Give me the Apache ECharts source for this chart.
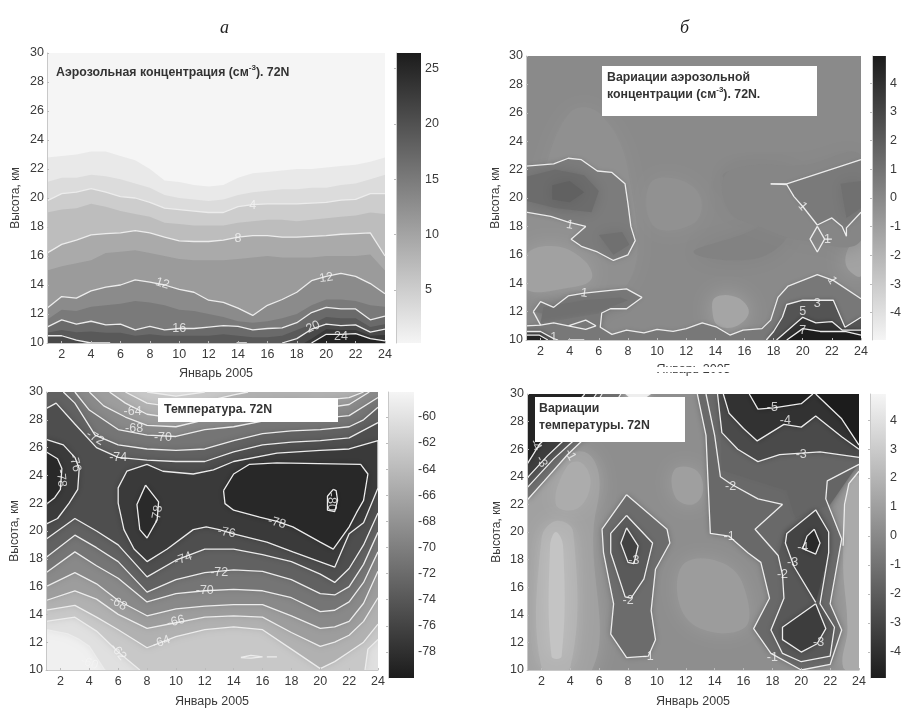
<!DOCTYPE html>
<html><head><meta charset="utf-8">
<style>html,body{margin:0;padding:0;background:#fff;overflow:hidden}#c{width:904px;height:709px;filter:blur(0.45px)}</style>
<script src="https://cdn.jsdelivr.net/npm/echarts@6/dist/echarts.min.js"></script>
</head><body><div id="c"></div><script>
const dayTicks=[2,4,6,8,10,12,14,16,18,20,22,24];
const kmTicks=[10,12,14,16,18,20,22,24,26,28,30];
const cbTicksA=[5,10,15,20,25];
const cbTicksB=[-4,-3,-2,-1,0,1,2,3,4];
const cbTicksC=[-78,-76,-74,-72,-70,-68,-66,-64,-62,-60];
const cbTicksD=[-4,-3,-2,-1,0,1,2,3,4];
const xName='Январь 2005', yName='Высота, км';
// panel a : height of each concentration level per day
const days=[1,2,3,4,5,6,7,8,9,10,11,12,13,14,15,16,17,18,19,20,21,22,23,24];
const a1=[22.8,22.9,23,23.2,23.2,22.9,22.6,22,21.2,21.1,20.9,20.8,20.9,21.4,21.7,21.8,21.9,22,22,22.1,22.2,22.3,22.5,22.8];
const a2=[21.1,21.4,21.4,21.6,21.5,21.3,21,20.7,20.2,20,19.9,19.8,19.9,20.2,20.4,20.5,20.6,20.6,20.7,20.7,20.9,21,21.3,21.6];
const a4=[19.8,20.3,20.4,20.65,20.4,20.1,20,19.7,19.3,19.2,19.1,19,19,19.4,19.55,19.6,19.6,19.6,19.65,19.7,19.85,19.9,20.3,20.3];
const a6=[19,19.2,19.3,19.6,19.4,19.1,18.9,18.7,18.3,18.2,18.1,18.1,18.1,18.3,18.4,18.5,18.5,18.4,18.5,18.6,18.7,18.8,19,18.9];
const a8=[16.2,16.8,17.1,17.45,17.55,17.6,17.75,17.6,17.3,17.05,17,17,17.1,17.3,17.4,17.4,17.3,17.3,17.35,17.4,17.5,17.55,17.6,16];
const a10=[15,15.3,15.5,15.7,16.2,16.3,16.4,16.2,16,15.8,15.7,15.7,15.7,15.8,15.9,16,15.9,15.9,15.9,16,16,16,16.1,15];
const a12=[12.4,13.2,13.1,13.6,13.85,14,14.35,14.2,14,13.7,13.5,12.95,12.8,12.4,11.9,12.6,13,13.5,14.3,14.6,14.8,14.6,14.1,13.4];
const a14=[11.6,12.3,12.2,12.5,12.6,12.7,12.9,12.8,12.6,12.3,12.2,12,11.8,11.5,11.4,11.5,11.7,12,12.6,13,13,12.9,12.6,12.5];
const a16=[11.1,11.6,11.3,11.5,11.25,11.3,10.9,11.15,10.9,11,11,11.1,11.2,11.15,10.9,11,11.05,11.4,12.1,12.45,12.35,12.35,11.6,11.85];
const a18=[10.7,10.9,10.75,10.8,10.7,10.7,10.5,10.6,10.5,10.5,10.5,10.5,10.6,10.5,10.4,10.4,10.5,10.9,11.3,11.8,11.7,11.7,11.1,11.3];
const a20L=[[1,10.5],[2,10.5],[3,10.2],[4,10],[5.3,10]];
const a20R=[[17,10],[18,10.3],[19,10.95],[20,11.3],[21,11.2],[22,11.25],[23,10.75],[24,10.95]];
const a22=[[18.5,10],[19,10.3],[20,10.95],[21,10.9],[22,10.9],[23,10.5],[24,10.55]];
const a24=[[19,10],[20,10.6],[21,10.6],[22,10.65],[23,10.3],[24,10.15]];
const aIsland=[[13.9,10],[14.6,10]];
// panel b : contours
const b1Left=[[1,22.25],[2.9,22.4],[3.9,22.8],[4.8,22.7],[5.9,21.9],[6.9,21.8],[7.8,21],[8,19.6],[8.2,18],[8.5,17],[8,16],[7,15.6],[5.9,16.2],[4.8,16.6],[4.1,17.1],[5.1,18],[3.9,18.3],[2.7,18.7],[1,19]];
const b1Low=[[1.5,12],[2,12.7],[2.9,12.3],[3.9,13.1],[5,13.3],[6.8,13.5],[7.9,13.6],[8.96,13],[7.9,12.2],[6.8,12.2],[6.2,11.9],[6.1,10.9],[6.9,10.4],[7.9,10.7],[9.1,10.5],[10,10.75],[11.1,10.6],[12,10.8],[13.1,11.2],[14.1,10.9],[15,10.35],[15.9,10.7],[17.2,10.8],[17.8,11.4],[18.3,13],[19,13.8],[21,14.6],[22.1,14.2],[24,12.9]];
const b1Bot=[[1,11],[2,11.05],[2.9,11.2],[3.9,11],[5.1,11.4],[5.8,11],[5.1,10.75],[3.9,11]];
const b1Link=[[1.5,12],[2,11.05]];
const b3=[[17.5,10],[18,10.6],[18.6,11.6],[18.9,12.5],[20,12.8],[22.1,12.8],[22.9,10.9],[24,11.6]];
const b5=[[18.2,10],[20,11.6],[20.9,11.2],[22,11.3],[22.7,10.7],[24,10.7]];
const b7=[[18.9,10],[20,10.8],[21.2,10.6],[22.9,10.6],[24,10.35]];
const bCorner1=[[1,10.6],[2,10.6],[2.9,10.1],[3.2,10]];
const bCorner2=[[1,10.35],[1.9,10.35],[2.5,10]];
const bEdge=[[3.9,10],[5,10]];
const bRight=[[17.8,21],[18.9,21],[24,22.7]];
const bRight2=[[17.8,21],[18.9,20.95],[19.4,20.1],[20,19.4],[21,18.1],[22,18.6],[22.7,18],[23,17.3],[23,17.9],[24,19]];
const bDiamond=[[21,18],[21.5,17.1],[22,17.1],[21.5,17.1],[21,16.2],[20.5,17.1],[21,18]];
const bSoft=[
 {v:-0.35,pts:[[2,21],[4,26],[6,26],[8,22],[8,14],[3,14],[1,17]]},
 {v:-1.1,pts:[[1,16],[3,16.6],[5,15.6],[5.5,14.3],[4,13.7],[1,13.6]]},
 {v:-1.3,pts:[[14,13],[15.5,13],[16.3,12],[15.5,11],[14.2,11],[13.8,12]]},
 {v:-1.2,pts:[[23,15.2],[24,14.5],[24,17],[23.2,16.6]]},
 {v:-0.4,pts:[[9.5,21],[11.5,21.3],[13,20],[12.5,18.2],[9.8,18]]},
 {v:0.3,pts:[[14.5,21.5],[18,22],[20,21],[17,18],[12.5,16.2],[17,15.8],[19,18]]},
 {v:0.1,pts:[[14.6,21.5],[16.5,22.3],[20,22.3],[24,23],[24,17],[20,17],[17,18],[15,19]]}
];
const bFill=[
 {v:0.55,pts:b1Left},
 {v:1.3,pts:[[1,21.5],[3,22],[5,21.6],[6,20.5],[5.5,19],[3,19.3],[1,19.8]]},
 {v:1.8,pts:[[2.8,20.9],[4,21.2],[5,20.4],[4,19.7],[2.8,19.9]]},
 {v:1.1,pts:[[6,17.4],[7.6,17.6],[8.1,16.7],[7,16]]},
 {v:0.75,pts:b1Low.slice(0,11).concat([[6.2,11]])},
 {v:1.1,pts:[[2,11.2],[2.2,12.3],[5,12.8],[7.5,13],[8,12.8],[6,12],[5.8,11.2]]},
 {v:0.75,pts:[[1,11]].concat(b1Low.slice(10),[[24,10],[1,10]])},
 {v:2.4,pts:b3.concat([[24,10]])},
 {v:4,pts:b5.concat([[24,10]])},
 {v:4.95,pts:b7.concat([[24,10]])},
 {v:2.5,pts:bCorner1.concat([[1,10]])},
 {v:4.6,pts:bCorner2.concat([[1,10]])},
 {v:0.65,pts:[[18.9,21],[24,22.7],[24,19],[23,17.9],[23,17.3],[22.7,18],[22,18.6],[21,18.1],[20,19.4],[19.4,20.1]]},
 {v:1.1,pts:[[22.6,21],[24,21.2],[24,19.3],[23,18.6]]}
];
// panel c : bottom-side and top-side isotherms
const dayKnots=[1,3,4.5,6,8,10,12,14,16,18,20,21,22,23,24];
const c74B=[19.4,20.9,20,19,16.7,17.9,18.7,18.7,18.3,17.8,16.9,16.3,17.3,19,21.3];
const c72B=[18.1,19.7,18.8,17.8,15.6,16.5,17,17.2,17.1,16.5,15.5,15.4,16,17.6,19.9];
const c70B=[17,18.5,17.5,16.6,14.9,15.5,15.7,15.8,15.7,15.2,14.2,14.3,14.9,16.3,18.5];
const c68B=[16,17,16.2,15,13.9,14.4,14.6,14.7,14.7,13.9,13,13.1,13.5,14.8,17.1];
const c66B=[15,15.7,15.1,14,13,13.4,13.8,13.9,13.8,12.7,11.7,12,12.5,13.5,15.2];
const c64B=[14.3,14.65,13.8,12.9,11.6,12.4,12.9,13.1,12.9,11.5,10.1,10.6,11.3,12,13.3];
const c62L=[[1,13.5],[3,13.8],[4.5,12.8],[6,11.3],[7.5,10]];
const c62R=[[23.1,10],[23.3,11.5],[24,12.2]];
const c60L=[[1,12.9],[2.5,12.6],[3.3,12.2],[4,11.7],[5,10.1],[5.1,10]];
const c74T=[[1,28.8],[1.7,29.2],[3,27.7],[4.5,26],[6,25.3],[8,25.1],[10,25],[12,25],[14,25.7],[16,26.2],[18,26.4],[20,26.5],[22,26.7],[24,27.8]];
const c72T=[[2.2,30],[3,29.2],[4.4,26.9],[6,26.2],[8,25.9],[10,25.8],[12,25.9],[14,26.5],[16,27],[18,27.2],[20,27.3],[22,27.5],[23,28],[24,28.9]];
const c70T=[[3,30],[4,28.7],[6,27.3],[8,26.9],[10,26.8],[12,27.3],[14,27.5],[16,27.9],[18,28],[20,28.1],[22,28.3],[24,29.6]];
const c68T=[[4,30],[5,29],[6.5,28.2],[8,27.6],[10,27.5],[12,28],[14,28.5],[16,28.7],[18,28.8],[20,28.8],[22,29.1],[23.4,30]];
const c66T=[[5.4,30],[6.5,29.2],[8,28.4],[10,28.1],[12,28.6],[14,29.2],[16,29.4],[18,29.5],[20,29.4],[22,29.6],[23,30]];
const c64T=[[6.5,30],[8,29.2],[10,28.9],[12,29.3],[14,29.8],[15,30]];
const c62T=[[8,30],[10,29.7],[12,30]];
const c76Loop=[[8,24.8],[9.1,24.3],[11.2,24.1],[12.6,24.4],[14,25],[17,25.6],[20,25.8],[22,25.9],[24,26.5],[24,23.1],[23,20.6],[22,19.8],[21,17.4],[18.1,18.5],[16.3,19.2],[14,19.8],[13,20.1],[12.1,20.3],[11.2,20.1],[9.4,18.7],[8,17.8],[7.1,18.7],[6.4,20.1],[6,22],[6,23.1],[6.6,24.3],[8,24.8]];
const c76Left=[[1,20.5],[1.8,20.9],[2.6,22],[3.2,23],[3.3,24.5],[3,25.3],[2.2,26.2],[1,26.6]];
const c78Left=[[1,21.9],[1.6,22.4],[2,23],[2.1,24.5],[1.8,25.2],[1,25.7]];
const c78Mid=[[7.9,23.3],[8.8,22.1],[8.7,20.8],[8,19.5],[7.5,20.1],[7.3,21.9],[7.9,23.3]];
const c78Right=[[13.3,22.9],[14,24.1],[15.1,24.8],[17,24.9],[22.8,24.8],[23.3,24.1],[23,22.2],[22.5,21.3],[22,20.3],[20.9,18.7],[20,19.2],[18.1,20.3],[17,20.7],[15.8,21],[14,21.5],[13.4,21.97],[13.3,22.9]];
const c80=[[20.9,23],[21.1,22.9],[21.2,22.2],[21,21.4],[20.5,21.5],[20.5,22.5],[20.9,23]];
const cIsle1=[[14.5,10.9],[15.2,11.05],[16,10.95],[15.2,10.85],[14.5,10.9]];
const cIsle2=[[16.3,10.95],[17,10.95]];
// panel d : contours
const d1Right=[[12.8,30],[13.4,27],[13.6,22.3],[13.7,19.9],[15,19.7],[16.3,18.5],[17.2,17.8],[17.8,15.2],[16.7,13],[17.9,11.2],[20,10],[22,10.4],[22.8,12.9],[22,14.8],[22.8,19.5],[21.7,22.4],[21.8,23.7],[24,24.9]];
const d2Right=[[13.4,30],[14,27],[14.4,24],[15.1,23.5],[17,22.4],[18.7,22],[16.8,20.2],[18.4,18.3],[18.7,16.9],[18.8,15.2],[17.9,12.9],[18.7,11.2],[20,10.6],[22,11],[22.3,13.1],[21.3,14.8],[21.9,18.5],[21.9,20],[21,21.6],[19,19.9],[18.9,19.2],[19.5,17.5],[21,14.9]];
const d3Low=[[21,14.8],[21.7,13],[21.1,11.9],[20,11.3],[18.7,12.2],[18.7,13.1],[21,14.8]];
const d3Top=[[14.2,30],[14.5,27.2],[15.6,26],[17,25.1],[18.5,25.6],[21.3,25.8],[24,25.4]];
const d4Top=[[14.6,30],[15,28.6],[16,27.5],[16.95,26.6],[18.8,27.8],[20,27.6],[21,28.4],[22.8,26.9],[24,26]];
const d5Top=[[16.4,30],[17,28.9],[18.1,29],[20,29.3],[20.8,30]];
const d5Right=[[21,30],[22.8,28.2],[24,26.3]];
const d4Inner=[[20.9,20.2],[21.3,19.2],[21,18.4],[20.1,18.8],[20.4,19.7],[20.9,20.2]];
const d0Right=[[24,24.4],[23.3,23.5],[23,22],[22.9,19]];
const d1Mid=[[7.9,22.7],[10.7,20.2],[10.9,19.2],[9.9,17.3],[9.6,14.3],[9.9,12.2],[9.4,11],[7.9,10.9],[6.8,12.6],[7,14.8],[6.3,18.5],[6.2,20.2],[7.9,22.7]];
const d2Mid=[[7.9,21.2],[9.7,19.2],[9.1,16.6],[8.2,15.2],[7.8,15.3],[6.8,18.5],[6.8,19.9],[7.9,21.2]];
const d3Mid=[[7.9,20.3],[8.7,19],[8.4,17.7],[8,17.8],[7.5,19.2],[7.9,20.3]];
const d1Corner=[[1,22.3],[2.2,23.7],[3.8,25.6],[4.8,26.6],[6,27.5],[7.5,30]];
const d2Corner=[[1,23.2],[2.85,25.3],[4.2,26.6],[5,28],[6.2,30]];
const d3Corner=[[1,23.9],[2.4,25.5],[3.5,26.6],[4.5,28],[5.8,30]];
const d4Corner=[[1,24.9],[1.9,26.4],[3,27.5],[5,30]];
const dSoft=[
 {v:1.1,pts:[[1,10],[5.5,10],[5.6,20],[6,24],[5,25.8],[3,25],[1,22]]},
 {v:1.9,pts:[[2,10.2],[4,10.2],[4.2,20],[3,20.8],[2,19.5]]},
 {v:2.7,pts:[[2.7,11],[3.4,11],[3.5,19],[3,20],[2.6,19]]},
 {v:1.6,pts:[[3,22],[4.5,21.7],[5.4,23.5],[4.8,25],[3.8,24.8]]},
 {v:1,pts:[[11.2,24.5],[12.7,24.5],[13.2,23],[12.5,22],[11.3,22.5]]},
 {v:0.9,pts:[[12,17.8],[15,17.5],[16.3,15],[16,13],[13,13],[11.5,15]]},
 {v:1.5,pts:[[23.3,23.5],[24,24],[24,10],[22.9,10.2],[23.2,13],[22.9,18]]}
];
const dFill=[
 {v:-1.4,pts:d1Right.concat([[24,30]])},
 {v:-1.6,pts:[[14.4,30],[14.5,24.5],[19,23],[19.6,21],[22,22],[24,25],[24,30]]},
 {v:-2.8,pts:d3Top.concat([[24,30]])},
 {v:-3.9,pts:d4Top.concat([[24,30]])},
 {v:-4.7,pts:d5Top},
 {v:-4.9,pts:d5Right.concat([[24,30]])},
 {v:-1.3,pts:d1Mid},{v:-2.1,pts:d2Mid},{v:-3.2,pts:d3Mid},
 {v:-2.2,pts:[[18.4,18.3],[18.7,16.9],[18.8,15.2],[17.9,12.9],[18.7,11.2],[20,10.6],[22,11],[22.3,13.1],[21.3,14.8],[21.9,18.5],[21.9,20],[21,21.6],[18.9,20]]},
 {v:-3.1,pts:[[21,21.6],[21.9,20],[21.9,18.5],[21,14.9],[19.5,17.5],[18.9,19.2],[19,19.9]]},
 {v:-3.4,pts:d3Low},{v:-4.3,pts:d4Inner},
 {v:-1.2,pts:d1Corner.concat([[1,30]])},{v:-2.3,pts:d2Corner.concat([[1,30]])},{v:-3.4,pts:d3Corner.concat([[1,30]])},{v:-4.6,pts:d4Corner.concat([[1,30]])},
 {v:4.6,pts:[[7.8,30],[8.6,29.3],[9.6,30]]}
];
// contour labels: day, km, text, rotation
const labelsA=[[15,19.45,'4',0],[14,17.2,'8',0],[8.85,14.1,'12',-18],[20,14.5,'12',8],[10,11,'16',0],[19.1,11.1,'20',25],[21,10.45,'24',0]];
const labelsB=[[4,18.1,'1',-10],[5,13.3,'1',-8],[20,19.4,'1',-50],[21.7,17.1,'1',0],[22,14.2,'1',-60],[21,12.6,'3',0],[20,12,'5',0],[20,10.7,'7',0],[2.9,10.2,'1',0]];
const labelsC=[[7,28.6,'-64',0],[7.1,27.4,'-68',0],[9.1,26.7,'-70',0],[4.4,26.7,'-72',-30],[6,25.3,'-74',0],[3,24.9,'-76',-75],[2.05,23.8,'-78',-85],[8.7,21.2,'-78',80],[20.8,22.1,'-80',-90],[17,20.6,'-78',-15],[13.5,19.9,'-76',-10],[10.5,18,'-74',20],[13,17,'-72',0],[12,15.7,'-70',0],[6,14.8,'-68',-30],[10,13.5,'-66',15],[9,12,'-64',20],[6,11.3,'-62',-50],[4,10.5,'-60',-20]];
const labelsD=[[18,29,'-5',0],[18.9,28.1,'-4',0],[20,25.6,'-3',0],[15.1,23.3,'-2',0],[15,19.7,'-1',0],[8.4,17.9,'-3',0],[8,15,'-2',0],[9.4,11,'-1',0],[18.7,16.9,'-2',0],[19.4,17.8,'-3',0],[20.1,18.9,'-4',0],[21.2,12,'-3',0],[18,10.9,'-1',0],[4,25.6,'-1',-60],[2,25.1,'-3',-60],[1.6,26.3,'-4',-60]];

const FONT='"Liberation Sans",Arial,sans-serif';
const join=(x,y)=>x.map((d,i)=>[d,y[i]]);
const knot=y=>join(dayKnots,y);
const dayLine=y=>join(days,y);
const panels=[
 {g:{left:47,top:53,width:338,height:290},cb:{left:396,top:53,width:25,height:290},range:[0.2,26.4],cbTicks:cbTicksA,darkTop:true,tickY:32},
 {g:{left:526,top:56,width:335,height:284},cb:{left:872,top:56,width:26,height:284},range:[-4.95,4.95],cbTicks:cbTicksB,darkTop:true},
 {g:{left:46,top:392,width:332,height:286},cb:{left:388,top:392,width:26,height:286},range:[-80,-58.1],cbTicks:cbTicksC,darkTop:false},
 {g:{left:527,top:394,width:332,height:283},cb:{left:870,top:394,width:25,height:284},range:[-4.9,4.9],cbTicks:cbTicksD,darkTop:false}
];
function grayOf(p,v){
 const t=(v-p.range[0])/(p.range[1]-p.range[0]);
 const g=p.darkTop?0.96-0.85*t:0.11+0.85*t;
 const n=Math.round(g*255);return `rgb(${n},${n},${n})`;
}
const series=[],grids=[],xAxes=[],yAxes=[];
const lab={color:'#3a3a3a',fontFamily:FONT,fontSize:12.5};
panels.forEach((p,i)=>{
 grids.push(p.g);
 xAxes.push({type:'value',gridIndex:i,min:1,max:24,name:xName,nameLocation:'middle',nameGap:i<2?(i==0?24:23):25,nameTextStyle:{color:'#3a3a3a',fontFamily:FONT,fontSize:12.5},
  axisLabel:{...lab,customValues:dayTicks,margin:5,hideOverlap:false},axisTick:{customValues:dayTicks,inside:true,length:2,lineStyle:{color:'#bbb'}},axisLine:{show:true,lineStyle:{color:'#c8c8c8'}},splitLine:{show:false},z:5});
 yAxes.push({type:'value',gridIndex:i,min:10,max:30,name:yName,nameLocation:'middle',nameGap:i%2?24:25,nameTextStyle:{color:'#3a3a3a',fontFamily:FONT,fontSize:12},
  axisLabel:{...lab,customValues:kmTicks,margin:3},axisTick:{customValues:kmTicks,inside:true,length:2,lineStyle:{color:'#bbb'}},axisLine:{show:true,lineStyle:{color:'#c8c8c8'}},splitLine:{show:false},z:5});
});
panels.forEach((p,i)=>{
 const k=4+i;
 grids.push(p.cb);
 xAxes.push({type:'value',gridIndex:k,min:0,max:1,show:false});
 yAxes.push({type:'value',gridIndex:k,position:'right',min:p.range[0],max:p.range[1],
  axisLabel:{...lab,customValues:p.cbTicks,margin:4},axisTick:{customValues:p.cbTicks,inside:true,length:2,lineStyle:{color:'#bbb'}},axisLine:{show:true,lineStyle:{color:'#c8c8c8'}},splitLine:{show:false},z:5});
 series.push({type:'custom',xAxisIndex:k,yAxisIndex:k,silent:true,animation:false,data:[[0,p.range[0],1,p.range[1]]],
  renderItem:(pa,api)=>{
   const a=api.coord([api.value(0),api.value(3)]),b=api.coord([api.value(2),api.value(1)]);
   return {type:'rect',shape:{x:a[0],y:a[1],width:b[0]-a[0],height:b[1]-a[1]},
    style:{fill:new echarts.graphic.LinearGradient(0,0,0,1,[{offset:0,color:grayOf(p,p.range[1])},{offset:1,color:grayOf(p,p.range[0])}])}};
  }});
});
function fills(i,items,blur,smooth){
 const p=panels[i];
 series.push({type:'custom',xAxisIndex:i,yAxisIndex:i,silent:true,animation:false,clip:true,z:2,data:items.map((_,n)=>[n]),encode:{x:0,y:0},
  renderItem:(pa,api)=>{
   const it=items[api.value(0)],c=grayOf(p,it.v);
   return {type:'polygon',shape:{points:it.pts.map(q=>api.coord(q)),smooth:it.smooth||smooth||0},
    style:{fill:c,shadowBlur:it.blur!==undefined?it.blur:blur,shadowColor:c}};
  }});
}
function lines(i,arr){
 arr.forEach(a=>series.push({type:'line',xAxisIndex:i,yAxisIndex:i,data:a,silent:true,animation:false,symbol:'none',z:3,clip:true,
  lineStyle:{color:'#ececec',width:1.3}}));
}
function labels(i,arr){
 series.push({type:'scatter',xAxisIndex:i,yAxisIndex:i,symbolSize:0,silent:true,animation:false,z:4,
  data:arr.map(a=>({value:[a[0],a[1]],label:{show:true,position:'inside',formatter:a[2],rotate:a[3],color:'#f4f4f4',fontFamily:FONT,fontSize:12.5}}))});
}
const box=(i,pts)=>pts;
// panel a
const aClose=y=>dayLine(y).concat([[24,10],[1,10]]);
const aBase=[{v:0.2,pts:[[1,10],[24,10],[24,30],[1,30]]}];
fills(0,aBase.concat([
 {v:1.6,pts:aClose(a1)},{v:3.2,pts:aClose(a2)},{v:5,pts:aClose(a4)},{v:7,pts:aClose(a6)},{v:9.2,pts:aClose(a8)},{v:11,pts:aClose(a10)},
 {v:13,pts:aClose(a12)},{v:15,pts:aClose(a14)},{v:17,pts:aClose(a16)},{v:19,pts:aClose(a18)},
 {v:21,pts:a20L.concat([[1,10]])},{v:21,pts:a20R.concat([[24,10]])},{v:23,pts:a22.concat([[24,10]])},{v:25.5,pts:a24.concat([[24,10]])}
]),0);
lines(0,[dayLine(a4),dayLine(a8),dayLine(a12),dayLine(a16),a20L,a20R,a24,aIsland]);
labels(0,labelsA);
// panel b
fills(1,[{v:-0.05,blur:0,pts:[[1,10],[24,10],[24,30],[1,30]]}].concat(bSoft.map(o=>({...o,blur:22,smooth:0.4}))),0);
fills(1,bFill.map((o,n)=>({...o,blur:(n==1||n==2||n==3||n==5||n==13)?14:5})),5);
lines(1,[b1Left,b1Low,b1Bot,b1Link,b3,b5,b7,bCorner1,bCorner2,bEdge,bRight,bRight2,bDiamond]);
labels(1,labelsB);
// panel c
function cRegion(bottom,top){
 const r=bottom.slice();
 if(top[top.length-1][0]<24)r.push([24,30]);
 r.push(...top.slice().reverse());
 if(top[0][0]>1)r.push([1,30]);
 return r;
}
const c62Bottom=c62L.concat(c62R);
const c60Bottom=c60L.concat([[24,10]]);
fills(2,[{v:-58.6,blur:0,pts:[[1,10],[24,10],[24,30],[1,30]]},
 {v:-60.2,pts:c60Bottom.concat([[24,30],[1,30]])},
 {v:-62.6,pts:cRegion(c62Bottom,c62T)},
 {v:-65,pts:cRegion(knot(c64B),c64T)},
 {v:-67,pts:cRegion(knot(c66B),c66T)},
 {v:-69,pts:cRegion(knot(c68B),c68T)},
 {v:-71,pts:cRegion(knot(c70B),c70T)},
 {v:-73,pts:cRegion(knot(c72B),c72T)},
 {v:-75,pts:cRegion(knot(c74B),c74T)},
 {v:-77,pts:c76Left},{v:-77,pts:c76Loop},
 {v:-78.7,pts:c78Left},{v:-78.6,pts:c78Mid},{v:-78.8,pts:c78Right},{v:-79.6,pts:c80}
],7);
lines(2,[knot(c64B),knot(c66B),knot(c68B),knot(c70B),knot(c72B),knot(c74B),c62L,c62R,c60L,c74T,c72T,c70T,c68T,c66T,c64T,c62T,c76Loop,c76Left,c78Left,c78Mid,c78Right,c80,cIsle1,cIsle2]);
labels(2,labelsC);
// panel d
fills(3,[{v:0.25,blur:0,pts:[[1,10],[24,10],[24,30],[1,30]]}].concat(dSoft.map(o=>({...o,blur:20,smooth:0.4}))),0);
fills(3,dFill,6);
lines(3,[d1Right,d2Right,d3Low,d3Top,d4Top,d5Top,d5Right,d4Inner,d0Right,d1Mid,d2Mid,d3Mid,d1Corner,d2Corner,d3Corner,d4Corner]);
labels(3,labelsD);

const sup={fontSize:8,verticalAlign:'top',color:'#333',fontFamily:FONT,padding:[0,0,7,0]};
const txt={color:'#333',fontFamily:FONT,fontSize:12.3,lineHeight:17,rich:{n:{color:'#333',fontFamily:FONT,fontSize:12.3,lineHeight:17},s:sup}};
const option={animation:false,backgroundColor:'#fff',grid:grids,xAxis:xAxes,yAxis:yAxes,series,
 title:[
  {text:'а',left:215,top:14,textStyle:{fontFamily:'"Liberation Serif",serif',fontStyle:'italic',fontWeight:'normal',fontSize:18,color:'#222'}},
  {text:'б',left:675,top:14,textStyle:{fontFamily:'"Liberation Serif",serif',fontStyle:'italic',fontWeight:'normal',fontSize:18,color:'#222'}},
  {text:'{n|Аэрозольная концентрация (см}{s|-3}{n|). 72N}',left:56,top:64,padding:0,textStyle:txt},
  {text:'{n|Вариации аэрозольной}\n{n|концентрации (см}{s|-3}{n|). 72N.}',left:607,top:69,padding:0,textStyle:txt},
  {text:'{n|Температура. 72N}',left:164,top:401,padding:0,textStyle:txt},
  {text:'{n|Вариации}\n{n|температуры. 72N}',left:539,top:400,padding:0,textStyle:txt}
 ],
 graphic:[
  {type:'rect',z:5,shape:{x:602,y:66,width:215,height:50},style:{fill:'#fff'},silent:true},
  {type:'rect',z:5,shape:{x:158,y:398,width:180,height:24},style:{fill:'#fff'},silent:true},
  {type:'rect',z:5,shape:{x:535,y:397,width:150,height:45},style:{fill:'#fff'},silent:true},
  {type:'rect',z:50,zlevel:0,shape:{x:454,y:367,width:450,height:5},style:{fill:'#fff'},silent:true}
 ]};
const chart=echarts.init(document.getElementById('c'),null,{renderer:'canvas',width:904,height:709});
chart.setOption(option);
</script></body></html>
